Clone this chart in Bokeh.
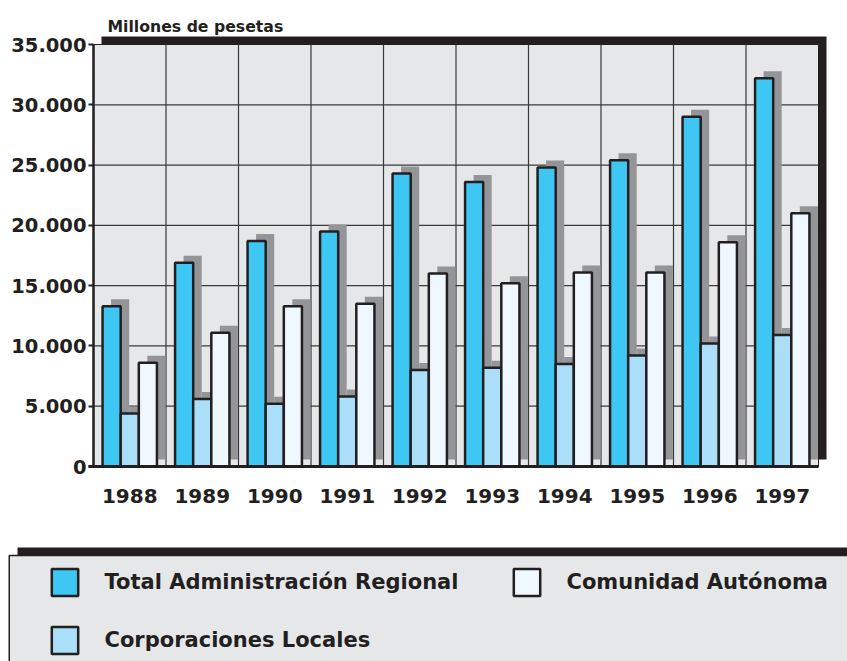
import numpy as np
from bokeh.plotting import figure
from bokeh.models import Range1d, FixedTicker, Label, Legend, LegendItem
from bokeh.embed import file_html
from bokeh.resources import INLINE

# ---------------- data ----------------
YEARS = ["1988", "1989", "1990", "1991", "1992", "1993", "1994", "1995", "1996", "1997"]
TOTAL_REGIONAL = [13300, 16900, 18700, 19500, 24300, 23600, 24800, 25400, 29000, 32200]
CORPORACIONES = [4400, 5600, 5200, 5800, 8000, 8200, 8500, 9200, 10200, 10900]
COMUNIDAD = [8600, 11100, 13300, 13500, 16000, 15200, 16100, 16100, 18600, 21000]
Y_TICKS = [0, 5000, 10000, 15000, 20000, 25000, 30000, 35000]
Y_TICK_LABELS = ["0", "5.000", "10.000", "15.000", "20.000", "25.000", "30.000", "35.000"]
SERIES_NAMES = ["Total Administración Regional", "Corporaciones Locales", "Comunidad Autónoma"]
Y_TITLE = "Millones de pesetas"

# ---------------- styling / geometry ----------------
DARK = "#231f20"
BG = "#e6e7e8"
SHADOW = "#939598"
COLORS = ["#3fc7f4", "#abdff9", "#eff8fe"]
FONT = "DejaVu Sans"

n = len(YEARS)
Y_MAX = Y_TICKS[-1]
W, H = 847, 661
LEFT_PX, BOTTOM_PX, TOP_PX = 93, 466, 44      # plot area placement on the canvas
PX_X = 72.5                                   # pixels per category
PX_Y = (BOTTOM_PX - TOP_PX) / Y_MAX           # pixels per unit


def X(px):
    return (px - LEFT_PX) / PX_X


def Y(py):
    return (BOTTOM_PX - py) / PX_Y


p = figure(width=W, height=H,
           x_range=Range1d(X(0), X(W)), y_range=Range1d(Y(H), Y(0)),
           output_backend="svg", toolbar_location=None, min_border=0,
           outline_line_color=None, background_fill_color="white", border_fill_color="white")
p.xgrid.visible = False
p.ygrid.visible = False

# frame drop shadow and plot area
p.quad(left=8 / PX_X, right=n + 8 / PX_X, bottom=7 / PX_Y, top=Y_MAX + 8 / PX_Y,
       fill_color=DARK, line_color=None)
p.quad(left=0, right=n, bottom=0, top=Y_MAX, fill_color=BG, line_color=DARK, line_width=1)

# grid lines
gx = list(range(1, n))
p.segment(x0=gx, y0=0, x1=gx, y1=Y_MAX, line_color="#3a3a3a", line_width=1.2)
gy = Y_TICKS[1:-1]
p.segment(x0=0, y0=gy, x1=n, y1=gy, line_color="#3a3a3a", line_width=1.2)

# bars with offset shadows
idx = np.arange(n) + 0.5
BW = 0.25
offsets = [-0.25, 0.0, 0.25]
series = [TOTAL_REGIONAL, CORPORACIONES, COMUNIDAD]
SDX = 8.5 / PX_X
SDY = 7 / PX_Y
for off, vals in zip(offsets, series):
    xs = idx + off
    v = np.array(vals, dtype=float)
    p.quad(left=xs - BW / 2 + SDX, right=xs + BW / 2 + SDX, bottom=SDY, top=v + SDY,
           fill_color=SHADOW, line_color=None)
bar_r = {}
for name, off, vals, c in zip(SERIES_NAMES, offsets, series, COLORS):
    bar_r[name] = p.vbar(x=idx + off, width=BW, bottom=0, top=vals, fill_color=c,
                         line_color=DARK, line_width=2.5)

# borders
p.segment(x0=0, y0=0, x1=0, y1=Y_MAX, line_color=DARK, line_width=2.5)
p.segment(x0=-5 / PX_X, y0=0, x1=n, y1=0, line_color=DARK, line_width=3)

# axes (fixed at the plot area's edges)
xa = p.xaxis[0]
xa.fixed_location = 0
xa.ticker = FixedTicker(ticks=list(idx))
xa.major_label_overrides = {float(x): y for x, y in zip(idx, YEARS)}
xa.axis_line_color = None
xa.major_tick_line_color = None
xa.minor_tick_line_color = None
xa.major_tick_out = 0
xa.major_tick_in = 0
xa.major_label_standoff = 22
xa.major_label_text_font = FONT
xa.major_label_text_font_style = "bold"
xa.major_label_text_font_size = "20px"
xa.major_label_text_color = DARK

ya = p.yaxis[0]
ya.fixed_location = 0
ya.ticker = FixedTicker(ticks=Y_TICKS)
ya.major_label_overrides = {t: l for t, l in zip(Y_TICKS, Y_TICK_LABELS)}
ya.axis_line_color = None
ya.minor_tick_line_color = None
ya.major_tick_in = 0
ya.major_tick_out = 5
ya.major_tick_line_color = DARK
ya.major_tick_line_width = 2
ya.major_label_standoff = 2
ya.major_label_text_font = FONT
ya.major_label_text_font_style = "bold"
ya.major_label_text_font_size = "19.5px"
ya.major_label_text_color = DARK

p.add_layout(Label(x=X(107), y=Y(26), text=Y_TITLE, text_font=FONT,
                   text_font_style="bold", text_font_size="15.7px", text_color=DARK,
                   text_baseline="alphabetic"))

# ---------------- legend panel ----------------
p.quad(left=X(17), right=X(W + 20), top=Y(547), bottom=Y(H + 20), fill_color=DARK, line_color=None)
p.quad(left=X(8.75), right=X(W + 20), top=Y(555), bottom=Y(H + 20), fill_color=BG,
       line_color=DARK, line_width=1.5)

order = [SERIES_NAMES[0], SERIES_NAMES[2], SERIES_NAMES[1]]
legend = Legend(items=[LegendItem(label=nm, renderers=[bar_r[nm]]) for nm in order],
                location=(47.5, H - 657), orientation="horizontal", ncols=2,
                glyph_width=33, glyph_height=34, label_standoff=24, label_width=381,
                label_height=20, spacing=24, padding=0, margin=0,
                border_line_color=None, background_fill_alpha=0,
                label_text_font=FONT, label_text_font_style="bold",
                label_text_font_size="21px", label_text_color=DARK)
p.add_layout(legend)

open("out.html", "w").write(file_html(p, INLINE))
